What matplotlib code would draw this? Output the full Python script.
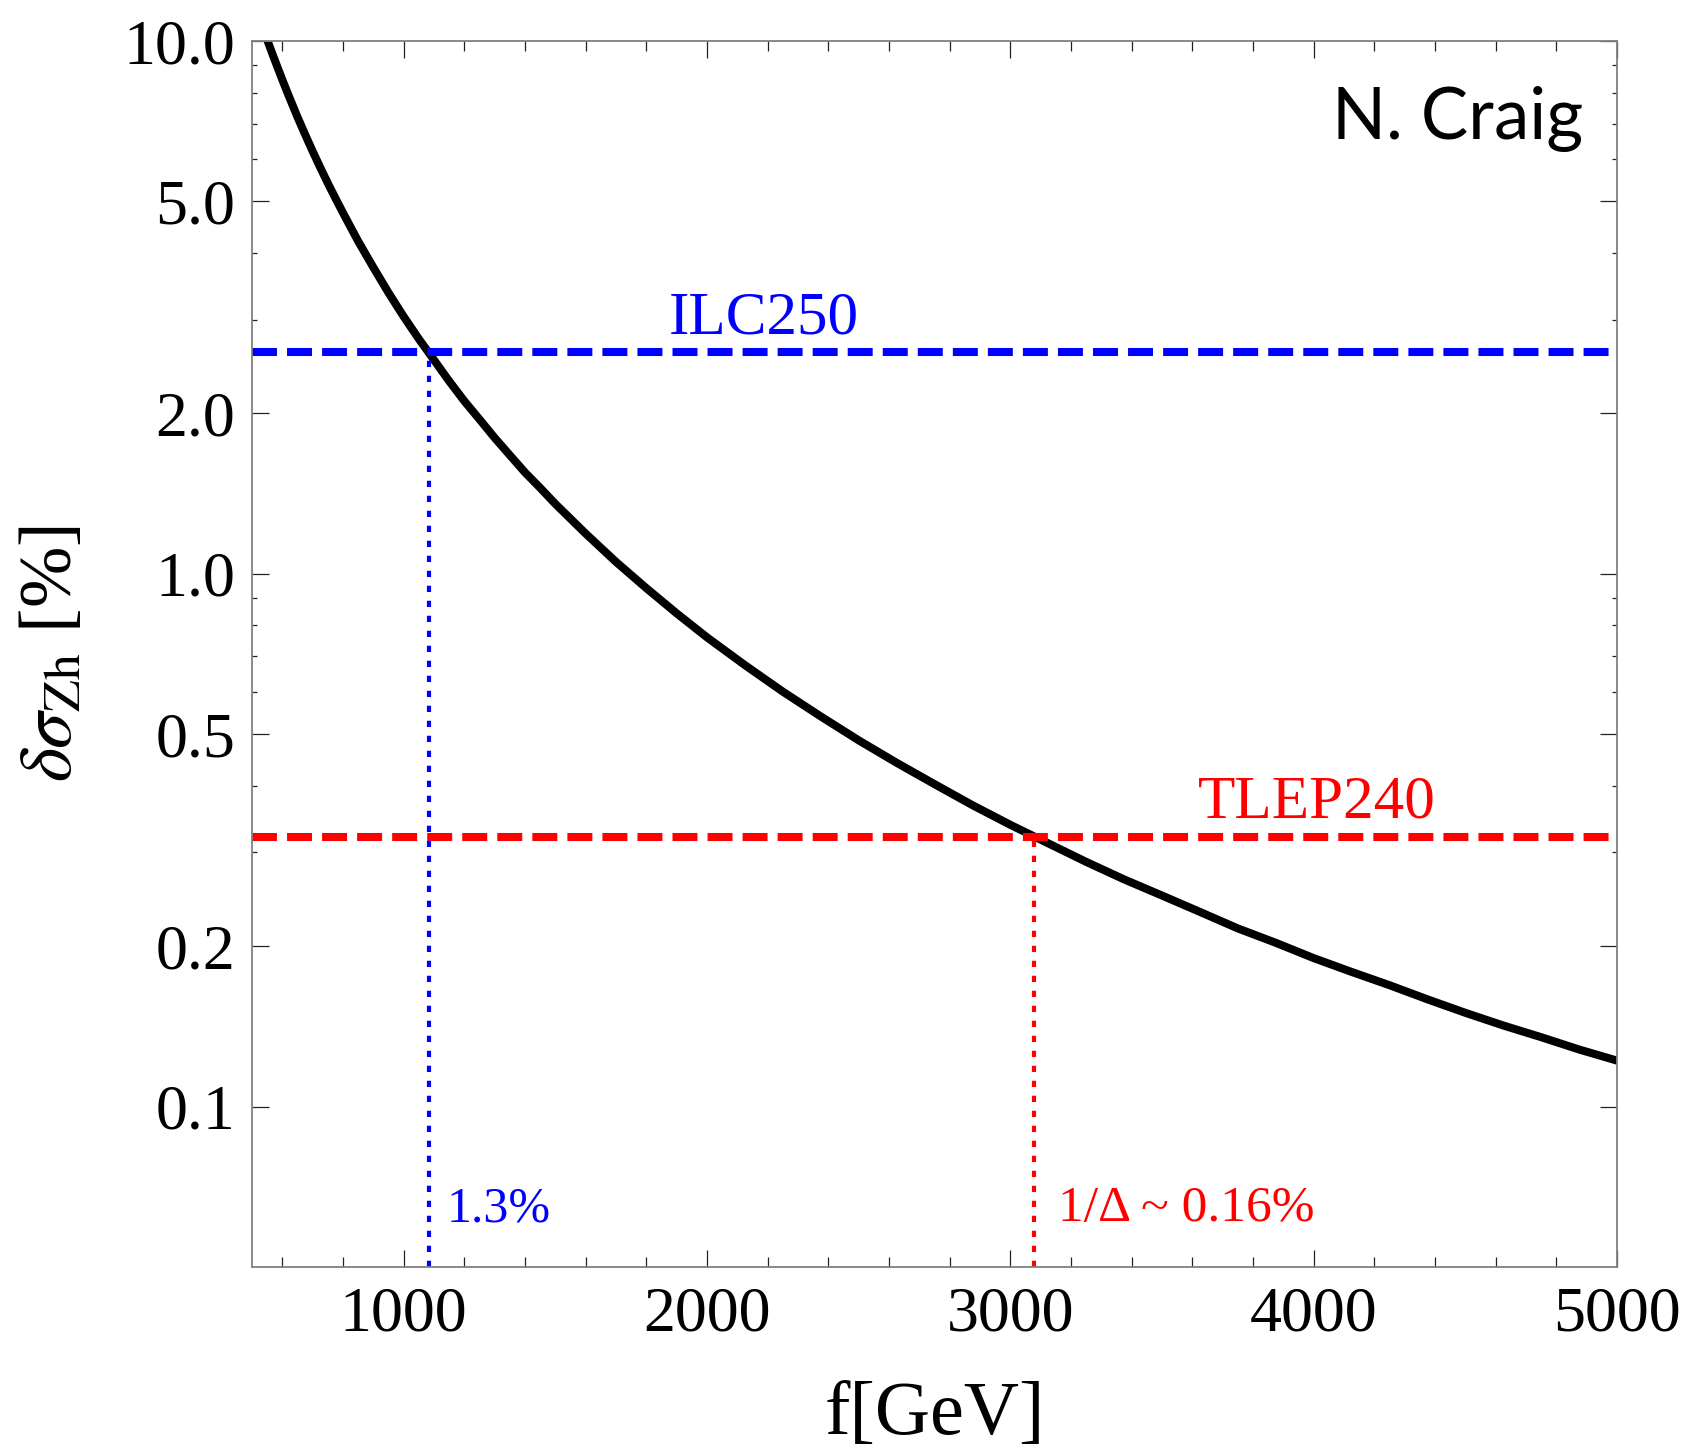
import numpy as np
import matplotlib
matplotlib.use('Agg')
import matplotlib.pyplot as plt
from matplotlib.ticker import FixedLocator, FixedFormatter

plt.rcParams['font.family'] = ['Liberation Serif', 'DejaVu Serif']
plt.rcParams['mathtext.fontset'] = 'stix'

# values
f_gev = [540, 555, 570, 600, 620, 650, 675, 700, 725, 750, 775, 800, 850,
         900, 950, 1000, 1050, 1100, 1150, 1200, 1250, 1300, 1350, 1400,
         1450, 1500, 1600, 1700, 1800, 1900, 2000, 2125, 2250, 2375, 2500,
         2625, 2750, 2875, 3000, 3125, 3250, 3375, 3500, 3625, 3750, 3875,
         4000, 4125, 4250, 4375, 4500, 4625, 4750, 4875, 5000]
dsigma = [10.44, 9.88, 9.37, 8.46, 7.92, 7.20, 6.68, 6.21, 5.79, 5.41, 5.07,
          4.76, 4.21, 3.76, 3.37, 3.04, 2.76, 2.52, 2.30, 2.11, 1.95, 1.80,
          1.67, 1.55, 1.45, 1.353, 1.19, 1.053, 0.94, 0.843, 0.76, 0.674,
          0.601, 0.540, 0.487, 0.442, 0.403, 0.368, 0.338, 0.312, 0.288,
          0.267, 0.249, 0.232, 0.216, 0.203, 0.190, 0.179, 0.169, 0.159,
          0.150, 0.142, 0.135, 0.128, 0.122]

ilc_level = 2.61      # ILC250 precision
tlep_level = 0.32     # TLEP240 precision
ilc_cross = 1082      # f where curve meets ILC250
tlep_cross = 3079     # f where curve meets TLEP240

x_major = [1000, 2000, 3000, 4000, 5000]
x_minor = [600, 800, 1200, 1400, 1600, 1800, 2200, 2400, 2600, 2800,
           3200, 3400, 3600, 3800, 4200, 4400, 4600, 4800]
y_major = [0.1, 0.2, 0.5, 1.0, 2.0, 5.0, 10.0]
y_labels = ['0.1', '0.2', '0.5', '1.0', '2.0', '5.0', '10.0']
y_minor = [0.3, 0.4, 0.6, 0.7, 0.8, 0.9, 3, 4, 6, 7, 8, 9]

fig = plt.figure(figsize=(16.98, 14.5), dpi=100)
ax = fig.add_axes([0.1484, 0.1262, 0.9523 - 0.1484, 0.9717 - 0.1262])
ax.set_yscale('log')
ax.set_xlim(500, 5000)
ax.set_ylim(0.05, 10.0)

ax.plot(f_gev, dsigma, color='black', lw=5.8, solid_joinstyle='round')

ax.axhline(ilc_level, color=(0, 0, 1), lw=5.8, dashes=(3.1, 1.25))
ax.axhline(tlep_level, color=(1, 0, 0), lw=5.8, dashes=(3.1, 1.25))
ax.vlines(ilc_cross, 0.05, ilc_level, color=(0, 0, 1), lw=3.0,
          linestyles=[(0, (1.5, 2.1))])
ax.vlines(tlep_cross, 0.05, tlep_level, color=(1, 0, 0), lw=3.0,
          linestyles=[(0, (1.5, 2.1))])

ax.text(2188, 2.83, 'ILC250', color=(0, 0, 1), fontsize=44,
        ha='center', va='baseline')
ax.text(4010, 0.349, 'TLEP240', color=(1, 0, 0), fontsize=44,
        ha='center', va='baseline')
ax.text(1143, 0.0609, '1.3%', color=(0, 0, 1), fontsize=36,
        ha='left', va='baseline')
ax.text(3157, 0.0609, '1/\u0394 ~ 0.16%', color=(1, 0, 0), fontsize=37,
        ha='left', va='baseline')
ax.text(4889, 6.56, 'N. Craig', color='black', fontsize=51,
        family=['Lato', 'DejaVu Sans'], ha='right', va='baseline')

ax.xaxis.set_major_locator(FixedLocator(x_major))
ax.xaxis.set_minor_locator(FixedLocator(x_minor))
ax.yaxis.set_major_locator(FixedLocator(y_major))
ax.yaxis.set_major_formatter(FixedFormatter(y_labels))
ax.yaxis.set_minor_locator(FixedLocator(y_minor))
ax.yaxis.set_minor_formatter(FixedFormatter([''] * len(y_minor)))

ax.tick_params(which='both', direction='in', top=True, right=True,
               color='#222222', width=0.9, labelsize=46)
ax.tick_params(which='major', length=12.5)
ax.tick_params(axis='x', which='minor', length=7)
ax.tick_params(axis='y', which='minor', length=3.8)
ax.tick_params(axis='x', pad=14)
ax.tick_params(axis='y', pad=12)

for sp in ax.spines.values():
    sp.set_color('#808080')
    sp.set_linewidth(1.3)

ax.set_xlabel('f[GeV]', fontsize=55, labelpad=26)
ax.set_ylabel(r'$\delta\sigma_{\mathrm{Zh}}$ [%]', fontsize=53, labelpad=26)

fig.savefig('out.png', dpi=100)
